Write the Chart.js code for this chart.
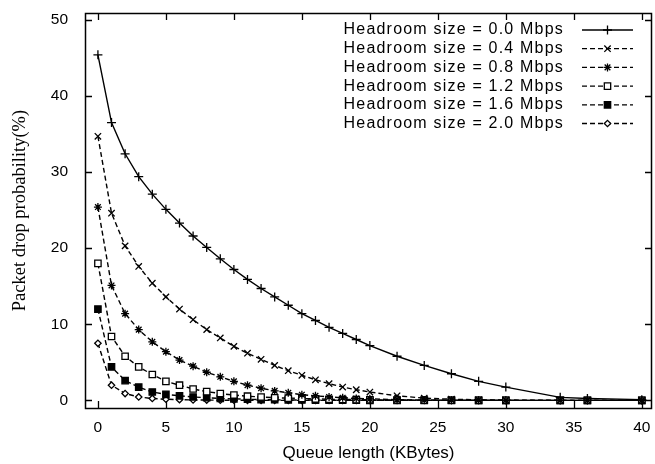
<!DOCTYPE html>
<html>
<head>
<meta charset="utf-8">
<script src="https://cdn.jsdelivr.net/npm/chart.js@4.4.1/dist/chart.umd.min.js"></script>
<style>
  html, body { margin: 0; padding: 0; background: #fff; }
  #wrap { position: relative; width: 655px; height: 464px; }
</style>
</head>
<body>
<div id="wrap"><canvas id="chart"></canvas></div>
<script>
// Queue length (KBytes) sampled in the figure
var queueLengths = [0, 1, 2, 3, 4, 5, 6, 7, 8, 9, 10, 11, 12, 13, 14, 15, 16, 17, 18, 19, 20,
  22, 24, 26, 28, 30, 34, 36, 40];

var seriesLabels = [
  'Headroom size = 0.0 Mbps',
  'Headroom size = 0.4 Mbps',
  'Headroom size = 0.8 Mbps',
  'Headroom size = 1.2 Mbps',
  'Headroom size = 1.6 Mbps',
  'Headroom size = 2.0 Mbps'
];

// Packet drop probability (%) per headroom size
var drop00 = [45.4, 36.5, 32.4, 29.4, 27.1, 25.1, 23.3, 21.6, 20.1, 18.6, 17.2, 15.9, 14.7, 13.6, 12.5,
  11.4, 10.5, 9.6, 8.8, 8.0, 7.2, 5.8, 4.6, 3.5, 2.5, 1.75, 0.4, 0.25, 0.1];
var drop04 = [34.7, 24.6, 20.3, 17.6, 15.4, 13.6, 12.0, 10.6, 9.3, 8.2, 7.1, 6.2, 5.4, 4.6, 3.9,
  3.3, 2.7, 2.2, 1.75, 1.4, 1.1, 0.6, 0.3, 0.15, 0.08, 0.04, 0.01, 0, 0];
var drop08 = [25.4, 15.1, 11.4, 9.3, 7.7, 6.4, 5.3, 4.5, 3.7, 3.1, 2.5, 2.0, 1.6, 1.25, 1.0,
  0.75, 0.6, 0.45, 0.35, 0.25, 0.2, 0.1, 0.05, 0.03, 0.02, 0.01, 0, 0, 0];
var drop12 = [18.0, 8.4, 5.8, 4.4, 3.4, 2.5, 2.0, 1.5, 1.15, 0.9, 0.7, 0.55, 0.45, 0.35, 0.3,
  0.25, 0.2, 0.15, 0.12, 0.1, 0.08, 0.05, 0.03, 0.02, 0.01, 0.01, 0, 0, 0];
var drop16 = [12.0, 4.4, 2.6, 1.75, 1.1, 0.8, 0.6, 0.45, 0.35, 0.25, 0.2, 0.15, 0.1, 0.08, 0.06,
  0.05, 0.04, 0.03, 0.02, 0.02, 0.01, 0, 0, 0, 0, 0, 0, 0, 0];
var drop20 = [7.5, 2.0, 0.9, 0.45, 0.25, 0.15, 0.1, 0.06, 0.04, 0.03, 0.02, 0.01, 0.01, 0, 0,
  0, 0, 0, 0, 0, 0, 0, 0, 0, 0, 0, 0, 0, 0];

var xTicks = [0, 5, 10, 15, 20, 25, 30, 35, 40];
var yTicks = [0, 10, 20, 30, 40, 50];

var allSeries = [drop00, drop04, drop08, drop12, drop16, drop20];
var markerStyles = ['cross', 'crossRot', 'star', 'rect', 'rect', 'rectRot'];
var markerRadius = [4.5, 4.5, 4, 4.5, 4.5, 3.2];
var markerFill = ['#000', '#000', '#000', '#fff', '#000', '#fff'];

function toPoints(values) {
  return queueLengths.map(function (q, i) { return { x: q, y: values[i] }; });
}

var datasets = allSeries.map(function (values, i) {
  return {
    label: seriesLabels[i],
    data: toPoints(values),
    borderColor: '#000',
    backgroundColor: markerFill[i],
    borderWidth: 1.4,
    borderDash: i === 0 ? [] : [5, 3],
    tension: 0,
    pointStyle: markerStyles[i],
    pointRadius: markerRadius[i],
    pointBorderWidth: 1.3,
    pointBorderColor: '#000',
    pointBackgroundColor: markerFill[i]
  };
});

// gnuplot-style frame with inward ticks on all four sides
var framePlugin = {
  id: 'frame',
  afterDraw: function (chart) {
    var ctx = chart.ctx, a = chart.chartArea;
    var xs = chart.scales.x, ys = chart.scales.y;
    var tl = 7;
    ctx.save();
    ctx.strokeStyle = '#000';
    ctx.lineWidth = 1.3;
    ctx.beginPath();
    xTicks.forEach(function (v) {
      var px = Math.round(xs.getPixelForValue(v)) + 0.5;
      ctx.moveTo(px, a.bottom); ctx.lineTo(px, a.bottom - tl);
      ctx.moveTo(px, a.top); ctx.lineTo(px, a.top + tl);
    });
    yTicks.forEach(function (v) {
      var py = Math.round(ys.getPixelForValue(v)) + 0.5;
      ctx.moveTo(a.left, py); ctx.lineTo(a.left + tl, py);
      ctx.moveTo(a.right, py); ctx.lineTo(a.right - tl, py);
    });
    ctx.stroke();
    ctx.lineWidth = 1.5;
    ctx.strokeRect(Math.round(a.left) + 0.5, Math.round(a.top) + 0.5,
      Math.round(a.right - a.left) - 1, Math.round(a.bottom - a.top));
    ctx.restore();
  }
};

// legend drawn like the original: label right-aligned, sample line on the right
var keyPlugin = {
  id: 'key',
  afterDraw: function (chart) {
    var ctx = chart.ctx;
    var textRight = 564, lineLeft = 582, lineRight = 633, top = 30, step = 18.7;
    ctx.save();
    chart.data.datasets.forEach(function (ds, i) {
      var y = top + i * step;
      ctx.font = '16px "Liberation Sans", Arial, sans-serif';
      ctx.fillStyle = '#000';
      ctx.textAlign = 'right';
      ctx.textBaseline = 'middle';
      if ('letterSpacing' in ctx) ctx.letterSpacing = '1.2px';
      ctx.fillText(ds.label, textRight, y);
      if ('letterSpacing' in ctx) ctx.letterSpacing = '0px';
      ctx.strokeStyle = '#000';
      ctx.lineWidth = 1.3;
      ctx.setLineDash(ds.borderDash);
      ctx.beginPath();
      ctx.moveTo(lineLeft, y);
      ctx.lineTo(lineRight, y);
      ctx.stroke();
      ctx.setLineDash([]);
      ctx.fillStyle = ds.pointBackgroundColor;
      if (Chart.helpers && Chart.helpers.drawPoint) {
        Chart.helpers.drawPoint(ctx, {
          pointStyle: ds.pointStyle,
          radius: ds.pointRadius,
          rotation: 0,
          borderWidth: ds.pointBorderWidth
        }, (lineLeft + lineRight) / 2, y);
      }
    });
    ctx.restore();
  }
};

function noOverflow(scale) {
  scale.paddingTop = 0;
  scale.paddingBottom = 0;
  scale.paddingLeft = 0;
  scale.paddingRight = 0;
}

var tickFont = { family: '"Liberation Sans", Arial, sans-serif', size: 15.5 };

new Chart(document.getElementById('chart'), {
  type: 'line',
  data: { datasets: datasets },
  options: {
    responsive: true,
    maintainAspectRatio: false,
    animation: false,
    layout: { autoPadding: false, padding: { top: 13, right: 3, left: 0, bottom: 0 } },
    plugins: {
      legend: { display: false },
      tooltip: { enabled: false }
    },
    scales: {
      x: {
        type: 'linear',
        min: -0.95,
        max: 40.75,
        afterBuildTicks: function (scale) {
          scale.ticks = xTicks.map(function (v) { return { value: v }; });
        },
        afterFit: function (scale) { scale.height = 56; noOverflow(scale); },
        grid: { display: false, drawTicks: false },
        border: { display: false },
        ticks: { color: '#000', font: tickFont, padding: 10, maxRotation: 0 },
        title: {
          display: true,
          text: 'Queue length (KBytes)',
          color: '#000',
          font: { family: '"Liberation Sans", Arial, sans-serif', size: 17 },
          padding: { top: 0, bottom: 0 }
        }
      },
      y: {
        min: -1,
        max: 50.9,
        afterBuildTicks: function (scale) {
          scale.ticks = yTicks.map(function (v) { return { value: v }; });
        },
        afterFit: function (scale) { scale.width = 85; noOverflow(scale); },
        grid: { display: false, drawTicks: false },
        border: { display: false },
        ticks: { color: '#000', font: tickFont, padding: 17 },
        title: {
          display: true,
          text: 'Packet drop probability(%)',
          color: '#000',
          font: { family: '"Liberation Serif", "Times New Roman", serif', size: 18.5 },
          padding: { top: 9, bottom: 0 }
        }
      }
    }
  },
  plugins: [framePlugin, keyPlugin]
});
</script>
</body>
</html>
